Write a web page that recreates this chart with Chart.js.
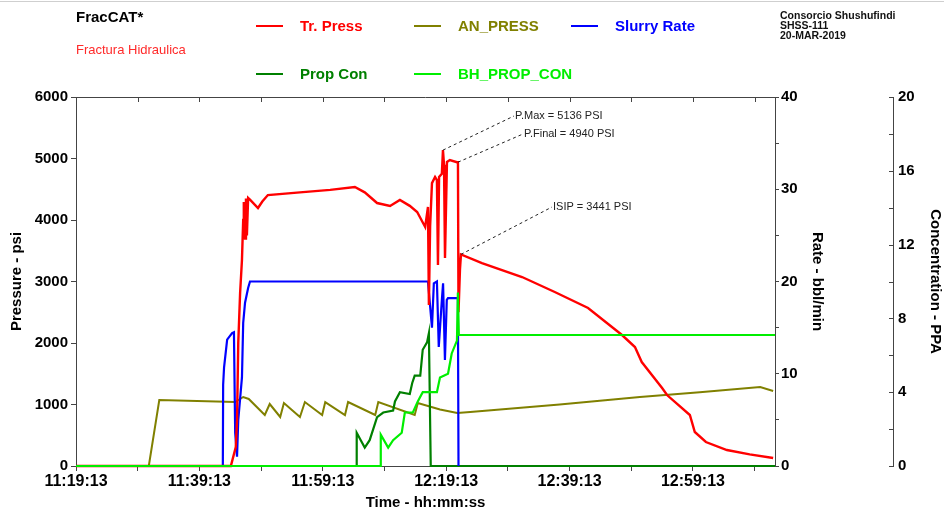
<!DOCTYPE html>
<html>
<head>
<meta charset="utf-8">
<script src="https://cdn.jsdelivr.net/npm/chart.js@4"></script>
<style>
  html, body { margin: 0; padding: 0; background: #fff; }
  #wrap { width: 944px; height: 515px; }
</style>
</head>
<body>
<div id="wrap"><canvas id="fracChart" width="944" height="515"></canvas></div>
<script>
// time in minutes after 11:19:13
const startSec = 11 * 3600 + 19 * 60 + 13;

const timeTr = [0, 25.1, 25.9, 26.1, 26.3, 26.6, 26.9, 27.1, 27.2, 27.4, 27.55, 27.7, 27.9, 28.2, 29.5, 30.2, 31.1,
  36.3, 41.2, 45.2, 46.8, 48.8, 50.9, 52.5, 54.1, 55.3, 56.6, 57.05, 57.2, 57.4, 57.7, 58.2, 58.5, 58.67, 58.85,
  59.3, 59.48, 59.65, 59.81, 60.13, 60.6, 61.75, 61.91, 62.0, 62.24, 62.4, 65.8, 72.3, 77.6, 83.0, 88.5, 90.6,
  91.7, 95.0, 95.8, 99.5, 100.3, 102.1, 105.5, 109.2, 113.0];
const trPress = [0, 0, 309, 748, 2000, 2813, 3350, 4000, 4293, 3700, 4350, 3750, 4358, 4330, 4195, 4300, 4406,
  4450, 4490, 4537, 4450, 4276, 4228, 4325, 4230, 4130, 3886, 4211, 2620, 3900, 4600, 4700, 4650, 3268, 4700,
  4750, 5136, 4900, 3382, 4943, 4975, 4940, 4940, 2500, 3200, 3441, 3300, 3073, 2829, 2569, 2130, 1935,
  1691, 1268, 1154, 829, 553, 390, 260, 190, 130];

const timeAn = [0, 11.8, 13.5, 25.8, 27.1, 28.0, 30.6, 31.4, 33.1, 33.7, 36.3, 37.1, 39.9, 40.4, 43.6, 44.1,
  48.5, 49.0, 54.9, 55.4, 59.0, 61.8, 63.9, 78.4, 91.4, 101.1, 110.9, 113.0];
const anPress = [0, 0, 1073, 1040, 1122, 1090, 829, 1008, 797, 1024, 797, 1040, 829, 1040, 829, 1040,
  829, 1040, 829, 1024, 920, 862, 880, 1000, 1122, 1200, 1285, 1220];

const timeRate = [0, 23.8, 23.85, 24.0, 24.5, 25.3, 25.6, 25.8, 26.1, 26.3, 26.9, 27.1, 27.4, 27.9, 28.2,
  57.05, 57.7, 58.0, 58.5, 58.8, 59.3, 59.5, 59.8, 60.1, 60.3, 61.9, 62.0];
const slurryRate = [0, 0, 8.8, 10.7, 13.7, 14.4, 14.5, 3.6, 1.0, 5.0, 9.6, 15.5, 17.7, 19.3, 20,
  20, 15, 19.8, 20, 12.9, 18, 19.8, 11.5, 18, 18.2, 18.2, 0];

const timeProp = [0, 45.4, 45.5, 46.8, 47.6, 48.8, 49.8, 51.4, 51.7, 52.5, 54.1, 54.5, 54.9, 55.8, 56.2,
  56.9, 57.2, 57.5, 113.3];
const propCon = [0, 0, 1.8, 1.0, 1.4, 2.65, 2.9, 3.0, 3.5, 4.0, 3.9, 4.5, 4.9, 4.9, 6.3,
  6.7, 7.2, 0, 0];

const timeBh = [0, 49.3, 49.4, 50.6, 51.4, 52.8, 53.3, 54.6, 55.4, 56.2, 58.5, 59.0, 60.3, 60.9, 61.75,
  61.9, 62.05, 113.3];
const bhPropCon = [0, 0, 1.7, 1.0, 1.4, 1.8, 2.9, 2.9, 3.5, 4.0, 4.0, 4.8, 5.0, 6.1, 6.8,
  9.4, 7.1, 7.1];

const annLabels = ['P.Max = 5136 PSI', 'P.Final = 4940 PSI', 'ISIP = 3441 PSI'];
const annTimes = [59.48, 61.91, 62.4];
const annValues = [5136, 4940, 3441];

function hms(m) {
  let s = Math.round(startSec + m * 60);
  const h = Math.floor(s / 3600); s -= h * 3600;
  const mi = Math.floor(s / 60); s -= mi * 60;
  const p = n => String(n).padStart(2, '0');
  return p(h) + ':' + p(mi) + ':' + p(s);
}
function pts(xs, ys) { return xs.map((x, i) => ({ x: x, y: ys[i] })); }

const FONT = 'Liberation Sans, Arial, sans-serif';
const axisColor = '#444';

const headerPlugin = {
  id: 'header',
  afterDraw(chart) {
    const ctx = chart.ctx;
    const area = chart.chartArea;
    ctx.save();
    // top grey rule
    ctx.strokeStyle = '#cfcfcf';
    ctx.lineWidth = 1;
    ctx.beginPath(); ctx.moveTo(0, 1.5); ctx.lineTo(944, 1.5); ctx.stroke();

    ctx.textBaseline = 'middle';
    ctx.textAlign = 'left';
    ctx.fillStyle = '#000';
    ctx.font = 'bold 15px ' + FONT;
    ctx.fillText('FracCAT*', 76, 18);
    ctx.fillStyle = '#ff2a2a';
    ctx.font = '13px ' + FONT;
    ctx.fillText('Fractura Hidraulica', 76, 50);

    // legend
    const items = [
      ['Tr. Press', '#ff0000', 256, 26],
      ['AN_PRESS', '#808000', 414, 26],
      ['Slurry Rate', '#0000ff', 571, 26],
      ['Prop Con', '#008000', 256, 74],
      ['BH_PROP_CON', '#00ee00', 414, 74]
    ];
    ctx.font = 'bold 15px ' + FONT;
    items.forEach(it => {
      ctx.strokeStyle = it[1];
      ctx.lineWidth = 2;
      ctx.beginPath(); ctx.moveTo(it[2], it[3]); ctx.lineTo(it[2] + 27, it[3]); ctx.stroke();
      ctx.fillStyle = it[1];
      ctx.fillText(it[0], it[2] + 44, it[3] + 1);
    });

    // job info
    ctx.fillStyle = '#111';
    ctx.font = 'bold 10.5px ' + FONT;
    ctx.fillText('Consorcio Shushufindi', 780, 16);
    ctx.fillText('SHSS-111', 780, 26);
    ctx.fillText('20-MAR-2019', 780, 36);

    // frame top with inward ticks
    const xs = chart.scales.x;
    ctx.strokeStyle = axisColor;
    ctx.lineWidth = 1;
    ctx.beginPath(); ctx.moveTo(area.left, area.top + 0.5); ctx.lineTo(area.right, area.top + 0.5); ctx.stroke();
    xs.ticks.forEach(t => {
      const px = Math.round(xs.getPixelForValue(t.value)) + 0.5;
      ctx.beginPath(); ctx.moveTo(px, area.top); ctx.lineTo(px, area.top + 5); ctx.stroke();
    });

    // concentration axis ticks on the inner side
    const c = chart.scales.y2;
    c.ticks.forEach(t => {
      const py = Math.round(c.getPixelForValue(t.value)) + 0.5;
      ctx.beginPath(); ctx.moveTo(c.left - 4, py); ctx.lineTo(c.left, py); ctx.stroke();
    });

    // annotations
    const textPos = [[514, 116], [523, 134], [552, 207]];
    ctx.font = '11px ' + FONT;
    annLabels.forEach((lab, i) => {
      const ax = xs.getPixelForValue(annTimes[i]);
      const ay = chart.scales.y.getPixelForValue(annValues[i]);
      ctx.strokeStyle = '#222';
      ctx.setLineDash([3, 3]);
      ctx.beginPath(); ctx.moveTo(ax, ay); ctx.lineTo(textPos[i][0], textPos[i][1]); ctx.stroke();
      ctx.setLineDash([]);
      ctx.fillStyle = '#222';
      ctx.fillText(lab, textPos[i][0] + 1, textPos[i][1]);
    });
    ctx.restore();
  }
};

const ctx = document.getElementById('fracChart').getContext('2d');
const chart = new Chart(ctx, {
  type: 'line',
  data: {
    datasets: [
      { label: 'BH_PROP_CON', data: pts(timeBh, bhPropCon), yAxisID: 'y2', borderColor: '#00ee00', borderWidth: 2.2, clip: 3 },
      { label: 'Tr. Press', data: pts(timeTr, trPress), yAxisID: 'y', borderColor: '#ff0000', borderWidth: 2.4, clip: 3 },
      { label: 'Slurry Rate', data: pts(timeRate, slurryRate), yAxisID: 'y1', borderColor: '#0000ff', borderWidth: 2.2, clip: 3 },
      { label: 'Prop Con', data: pts(timeProp, propCon), yAxisID: 'y2', borderColor: '#008000', borderWidth: 2.2, clip: 3 },
      { label: 'AN_PRESS', data: pts(timeAn, anPress), yAxisID: 'y', borderColor: '#808000', borderWidth: 2, clip: 3 }
    ]
  },
  options: {
    responsive: false,
    animation: false,
    elements: { point: { radius: 0 }, line: { tension: 0 } },
    layout: { padding: { top: 97, left: 0, right: 0, bottom: 0 } },
    plugins: { legend: { display: false }, tooltip: { enabled: false } },
    scales: {
      x: {
        type: 'linear',
        position: 'bottom',
        min: 0,
        max: 113.3,
        afterFit: s => { s.height = 49; },
        ticks: {
          stepSize: 10,
          includeBounds: false,
          autoSkip: false,
          maxRotation: 0,
          padding: 1,
          color: '#000',
          font: { family: FONT, size: 16, weight: 'bold' },
          callback: v => (Math.abs(v % 20) < 1e-6 ? hms(v) : '')
        },
        grid: { drawOnChartArea: false, tickLength: 5, color: axisColor },
        border: { display: true, color: axisColor },
        title: {
          display: true,
          text: 'Time - hh:mm:ss',
          color: '#000',
          font: { family: FONT, size: 15, weight: 'bold' },
          padding: { top: 0, bottom: 3 }
        }
      },
      y: {
        position: 'left',
        min: 0,
        max: 6000,
        afterFit: s => { s.width = 76; },
        ticks: {
          stepSize: 1000,
          includeBounds: false,
          padding: 3,
          color: '#000',
          font: { family: FONT, size: 15, weight: 'bold' },
          callback: v => String(v)
        },
        grid: { drawOnChartArea: false, tickLength: 5, color: axisColor },
        border: { display: true, color: axisColor },
        title: {
          display: true,
          text: 'Pressure - psi',
          color: '#000',
          font: { family: FONT, size: 15, weight: 'bold' },
          padding: { top: 8, bottom: 0 }
        }
      },
      y1: {
        position: 'right',
        min: 0,
        max: 40,
        afterFit: s => { s.width = 118; },
        ticks: {
          stepSize: 5,
          includeBounds: false,
          autoSkip: false,
          padding: 2,
          color: '#000',
          font: { family: FONT, size: 15, weight: 'bold' },
          callback: v => (v % 10 === 0 ? String(v) : '')
        },
        grid: { drawOnChartArea: false, tickLength: 4, color: axisColor },
        border: { display: true, color: axisColor },
        title: {
          display: true,
          text: 'Rate - bbl/min',
          color: '#000',
          font: { family: FONT, size: 15, weight: 'bold' },
          padding: { top: 67, bottom: 0 }
        }
      },
      y2: {
        position: 'right',
        min: 0,
        max: 20,
        afterFit: s => { s.width = 51; },
        ticks: {
          stepSize: 2,
          includeBounds: false,
          autoSkip: false,
          padding: 5,
          color: '#000',
          font: { family: FONT, size: 15, weight: 'bold' },
          callback: v => (v % 4 === 0 ? String(v) : '')
        },
        grid: { drawOnChartArea: false, drawTicks: false, color: axisColor },
        border: { display: true, color: axisColor },
        title: {
          display: true,
          text: 'Concentration - PPA',
          color: '#000',
          font: { family: FONT, size: 15, weight: 'bold' },
          padding: { top: 0, bottom: 0 }
        }
      }
    }
  },
  plugins: [headerPlugin]
});
</script>
</body>
</html>
